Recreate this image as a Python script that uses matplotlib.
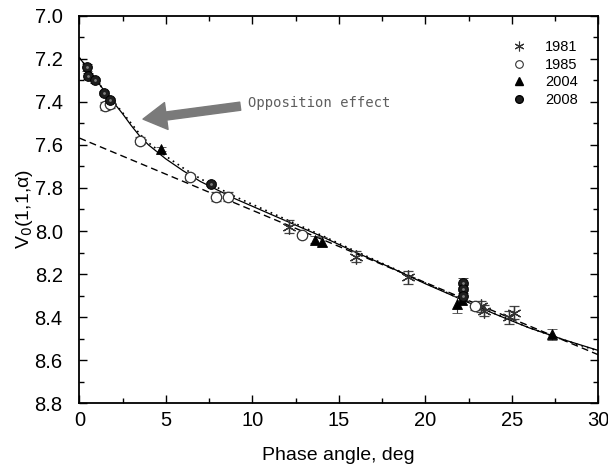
import numpy as np
import matplotlib.pyplot as plt
from matplotlib.ticker import MultipleLocator

# observed points: phase angle (deg), reduced magnitude, error
x1981 = [12.1, 16.0, 19.0, 23.2, 23.4, 24.85, 25.1]
y1981 = [7.98, 8.12, 8.215, 8.35, 8.37, 8.40, 8.38]
e1981 = [0.03, 0.025, 0.03, 0.025, 0.025, 0.03, 0.03]

x1985 = [1.5, 1.8, 3.5, 6.4, 7.9, 8.6, 12.9, 22.9]
y1985 = [7.42, 7.41, 7.58, 7.75, 7.84, 7.84, 8.02, 8.35]
e1985 = [0.02, 0.02, 0.015, 0.015, 0.02, 0.02, 0.01, 0.015]

x2004 = [4.7, 13.6, 14.05, 21.85, 22.1, 27.35]
y2004 = [7.62, 8.04, 8.05, 8.34, 8.32, 8.48]
e2004 = [0.01, 0.015, 0.02, 0.04, 0.02, 0.025]

x2008 = [0.45, 0.5, 0.9, 1.4, 1.8, 7.6, 22.2, 22.2, 22.2]
y2008 = [7.24, 7.28, 7.30, 7.36, 7.39, 7.78, 8.24, 8.27, 8.30]
e2008 = [0.015, 0.015, 0.01, 0.01, 0.01, 0.01, 0.02, 0.02, 0.02]

# model curves
fit_x = [0, 0.5, 1, 1.5, 2, 2.5, 3, 3.5, 4, 5, 6, 7, 8, 9, 10, 12, 14, 16, 18, 20, 22, 24, 26, 28, 30]
fit_y = [7.195, 7.245, 7.30, 7.355, 7.405, 7.455, 7.51, 7.56, 7.60, 7.665, 7.72, 7.77, 7.81, 7.85,
         7.885, 7.955, 8.025, 8.10, 8.17, 8.245, 8.315, 8.385, 8.45, 8.505, 8.555]
dot_y = [7.195, 7.245, 7.30, 7.355, 7.40, 7.45, 7.50, 7.55, 7.59, 7.652, 7.707, 7.757, 7.799, 7.84,
         7.876, 7.948, 8.02, 8.095, 8.168, 8.242, 8.313, 8.383, 8.449, 8.506, 8.558]
lin_x = [0, 30]
lin_y = [7.568, 8.575]

plt.rcParams['font.family'] = ['Liberation Sans', 'DejaVu Sans']
fig = plt.figure(figsize=(6.08, 4.65), dpi=100)
ax = fig.add_axes([0.1305, 0.133, 0.8535, 0.833])

ax.plot(lin_x, lin_y, color='black', ls=(0, (5, 3)), lw=1.0, zorder=2)
ax.plot(fit_x, dot_y, color='black', ls=(0, (1, 2.5)), lw=1.2, zorder=2)
ax.plot(fit_x, fit_y, color='black', ls='-', lw=0.9, zorder=2)

ebkw = dict(ls='none', ecolor='#444444', elinewidth=0.8, capsize=3.5, capthick=0.8, zorder=3)
ax.errorbar(x1981, y1981, yerr=e1981, marker=(6, 2, 0), ms=10, mec='#333333', mew=0.9, **ebkw)
ax.errorbar(x1985, y1985, yerr=e1985, marker='o', ms=7.5, mfc='white', mec='#333333', mew=0.9, **ebkw)
ax.errorbar(x2004, y2004, yerr=e2004, marker='^', ms=7.5, mfc='black', mec='black', mew=0.6, **ebkw)
ax.errorbar(x2008, y2008, yerr=e2008, marker='o', ms=7, mfc='#1e1e1e', mec='black', mew=0.7, **ebkw)
# light spot on the shaded balls
ax.plot(x2008, y2008, ls='none', marker='o', ms=2.0, mfc='#808080', mec='none', zorder=4)

# legend handles without error bars
h1, = ax.plot([], [], ls='none', marker=(6, 2, 0), ms=7, mec='#333333', mew=0.8)
h2, = ax.plot([], [], ls='none', marker='o', ms=5.5, mfc='white', mec='#333333', mew=0.8)
h3, = ax.plot([], [], ls='none', marker='^', ms=6, mfc='black', mec='black')
h4, = ax.plot([], [], ls='none', marker='o', ms=5.5, mfc='#1e1e1e', mec='black')
ax.legend([h1, h2, h3, h4], ['1981', '1985', '2004', '2008'], loc='upper right',
          frameon=False, fontsize=10.5, handlelength=1.2, handletextpad=1.2,
          labelspacing=0.25, borderaxespad=1.0, bbox_to_anchor=(1.0, 0.99))

# arrow and label
ax.annotate('', xy=(3.68, 7.48), xytext=(9.3, 7.42),
            arrowprops=dict(arrowstyle='simple,head_length=1.3,head_width=1.5,tail_width=0.45',
                            color='#7a7a7a', mutation_scale=13, shrinkA=0, shrinkB=0), zorder=4)
ax.text(9.75, 7.405, 'Opposition effect', family='DejaVu Sans Mono', fontsize=10,
        color='#5e5e5e', va='center', ha='left')

ax.set_xlim(0, 30)
ax.set_ylim(8.8, 7.0)
ax.xaxis.set_major_locator(MultipleLocator(5))
ax.xaxis.set_minor_locator(MultipleLocator(2.5))
ax.yaxis.set_major_locator(MultipleLocator(0.2))
ax.yaxis.set_minor_locator(MultipleLocator(0.1))
ax.yaxis.set_major_formatter(plt.FormatStrFormatter('%.1f'))
ax.tick_params(which='both', direction='in', top=True, right=True, width=1.0)
ax.tick_params(which='major', length=6, labelsize=14.5)
ax.tick_params(axis='y', which='major', pad=12)
ax.tick_params(axis='x', which='major', pad=6)
ax.tick_params(which='minor', length=3.5)
for s in ax.spines.values():
    s.set_linewidth(1.3)

ax.set_xlabel('Phase angle, deg', fontsize=14, labelpad=12)
ax.set_ylabel('V$_0$(1,1,α)', fontsize=14, labelpad=0)

fig.savefig('out.png', dpi=100)
